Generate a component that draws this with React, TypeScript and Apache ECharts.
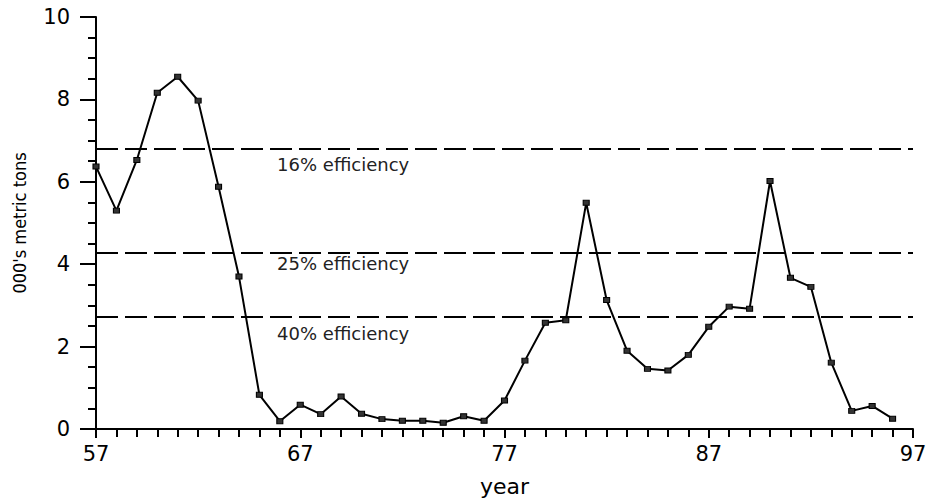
import React, { useEffect, useRef } from "react";
import * as echarts from "echarts";

// Yearly tonnage, two-digit years
const years = [
  57, 58, 59, 60, 61, 62, 63, 64, 65, 66, 67, 68, 69, 70, 71, 72, 73, 74, 75, 76,
  77, 78, 79, 80, 81, 82, 83, 84, 85, 86, 87, 88, 89, 90, 91, 92, 93, 94, 95, 96,
];
const tons = [
  6.37, 5.3, 6.53, 8.16, 8.55, 7.97, 5.88, 3.7, 0.83, 0.19, 0.59, 0.36, 0.79, 0.37, 0.24, 0.2, 0.2, 0.15, 0.31, 0.2,
  0.69, 1.66, 2.58, 2.64, 5.49, 3.13, 1.9, 1.46, 1.42, 1.8, 2.48, 2.97, 2.92, 6.02, 3.67, 3.45, 1.61, 0.44, 0.56, 0.25,
];

// Reference levels for each efficiency
const efficiencyLevels = [6.8, 4.27, 2.72];
const efficiencyLabels = ["16% efficiency", "25% efficiency", "40% efficiency"];

const xTickLabels = ["57", "67", "77", "87", "97"];
const firstYear = 57;

const FONT = "DejaVu Sans";

export default function App() {
  const ref = useRef<HTMLDivElement>(null);

  useEffect(() => {
    if (!ref.current) return;
    const chart = echarts.init(ref.current, null, { renderer: "svg" });

    const points = years.map((y, i) => [y - firstYear, tons[i]]);
    const labelOffsets = [-0.37, -0.25, -0.4];

    chart.setOption({
      animation: false,
      backgroundColor: "#ffffff",
      grid: { left: 96, right: 22, top: 17, bottom: 73 },
      xAxis: {
        type: "value",
        min: 0,
        max: 40,
        interval: 10,
        name: "year",
        nameLocation: "middle",
        nameGap: 46,
        nameTextStyle: { fontFamily: FONT, fontSize: 22, color: "#000" },
        axisLine: { lineStyle: { color: "#000", width: 2 } },
        axisTick: { show: true, length: 9, lineStyle: { color: "#000", width: 2 } },
        minorTick: { show: true, splitNumber: 10, length: 8, lineStyle: { color: "#000", width: 2 } },
        splitLine: { show: false },
        axisLabel: {
          margin: 14,
          fontFamily: FONT,
          fontSize: 21,
          color: "#000",
          formatter: (v: number) => xTickLabels[Math.round(v / 10)] ?? "",
        },
      },
      yAxis: {
        type: "value",
        min: 0,
        max: 10,
        interval: 2,
        name: "000's metric tons",
        nameLocation: "middle",
        nameGap: 68,
        nameTextStyle: { fontFamily: "DejaVu Sans Condensed", fontSize: 18, color: "#000" },
        axisLine: { show: true, lineStyle: { color: "#000", width: 2 } },
        axisTick: { show: true, length: 16, lineStyle: { color: "#000", width: 2 } },
        minorTick: { show: true, splitNumber: 4, length: 8, lineStyle: { color: "#000", width: 2 } },
        splitLine: { show: false },
        axisLabel: { margin: 26, fontFamily: FONT, fontSize: 21, color: "#000" },
      },
      series: [
        {
          type: "line",
          data: points,
          symbol: "rect",
          symbolSize: [6, 5],
          showSymbol: true,
          lineStyle: { color: "#000", width: 2 },
          itemStyle: { color: "#333", borderColor: "#000", borderWidth: 1 },
          z: 3,
          markLine: {
            silent: true,
            symbol: "none",
            label: { show: false },
            lineStyle: { color: "#000", width: 2, type: [22, 7] },
            data: efficiencyLevels.map((v) => ({ yAxis: v })),
          },
          markPoint: {
            silent: true,
            symbol: "rect",
            symbolSize: 1,
            itemStyle: { color: "rgba(0,0,0,0)" },
            label: {
              show: true,
              position: "inside",
              fontFamily: FONT,
              fontSize: 18,
              color: "#222",
            },
            data: efficiencyLevels.map((v, i) => ({
              coord: [69.1 - firstYear, v + labelOffsets[i]],
              value: efficiencyLabels[i],
              label: { formatter: efficiencyLabels[i] },
            })),
          },
        },
      ],
    });

    return () => chart.dispose();
  }, []);

  return <div ref={ref} style={{ width: 935, height: 502, position: "absolute", left: 0, top: 0 }} />;
}
